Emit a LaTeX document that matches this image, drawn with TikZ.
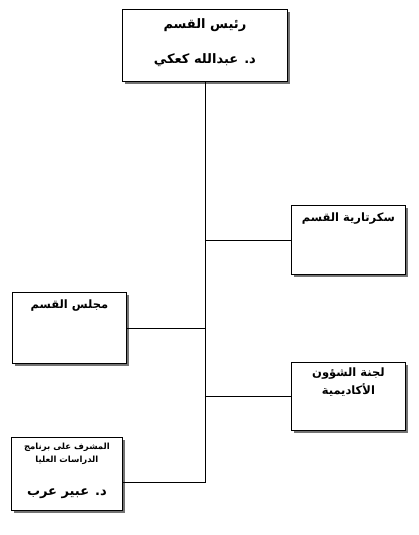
\documentclass[tikz,border=0pt]{standalone}
\usepackage{fontspec}
\usepackage{tikz}
\usetikzlibrary{shadows,positioning}
\TeXXeTstate=1
\newfontfamily\arabicfont[Script=Arabic]{DejaVu Sans}
\newcommand{\ar}[1]{\arabicfont\bfseries\beginR #1\endR}

\begin{document}
\begin{tikzpicture}[
  x=1pt, y=-1pt,
  box/.style={draw, line width=0.8pt, fill=white, anchor=north west, inner sep=0pt,
    drop shadow={shadow xshift=3pt, shadow yshift=-3pt, opacity=1, fill=black!55}},
  txt/.style={align=center, inner sep=0pt, font=\fontsize{11.5}{18}\selectfont},
  link/.style={draw, line width=0.8pt}
]
  \useasboundingbox (0,0) rectangle (419,535);

  % boxes
  \node[box, minimum width=165pt, minimum height=72pt] (head) at (122,9) {};
  \node[box, minimum width=114pt, minimum height=69pt] (secr) at (291,205) {};
  \node[box, minimum width=114pt, minimum height=71pt] (council) at (12,292) {};
  \node[box, minimum width=114pt, minimum height=68pt] (acad) at (291,362) {};
  \node[box, minimum width=111pt, minimum height=73pt] (grad) at (11,437) {};

  % texts
  \node[txt, font=\fontsize{13}{15}\selectfont, below=9pt of head.north] (headtitle) {\ar{رئيس القسم}};
  \node[txt, font=\fontsize{13}{15}\selectfont, below=44pt of head.north] (headname) {\ar{د. عبدالله كعكي}};
  \node[txt, below=8pt of secr.north] (secrtitle) {\ar{سكرتارية القسم}};
  \node[txt, below=8pt of council.north] (counciltitle) {\ar{مجلس القسم}};
  \node[txt, below=6pt of acad.north] (acadtitle) {\ar{لجنة الشؤون}\\\ar{الأكاديمية}};
  \node[txt, font=\fontsize{8.5}{13}\selectfont, below=6pt of grad.north] (gradtitle) {\ar{المشرف على برنامج}\\\ar{الدراسات العليا}};
  \node[txt, font=\fontsize{13}{15}\selectfont, below=52pt of grad.north] (gradname) {\ar{د. عبير عرب}};

  % links
  \coordinate (trunkend) at (head.south |- 0,482);
  \draw[link] (head.south) -- (trunkend) -- (trunkend -| grad.east);
  \draw[link] (head.south |- secr.west) -- (secr.west);
  \draw[link] (head.south |- council.east) -- (council.east);
  \draw[link] (head.south |- acad.west) -- (acad.west);
\end{tikzpicture}
\end{document}
